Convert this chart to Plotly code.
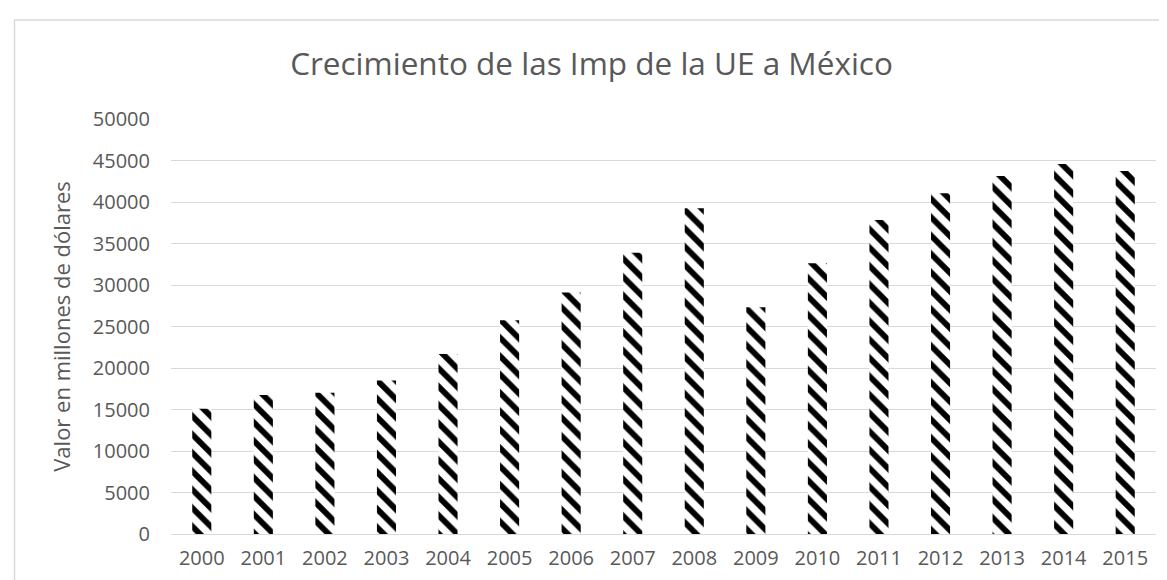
import plotly.graph_objects as go

years = ["2000", "2001", "2002", "2003", "2004", "2005", "2006", "2007",
         "2008", "2009", "2010", "2011", "2012", "2013", "2014", "2015"]
imports = [15100, 16750, 17030, 18480, 21690, 25750, 29090, 33900,
           39240, 27310, 32610, 37830, 41050, 43130, 44580, 43740]
y_ticks = [0, 5000, 10000, 15000, 20000, 25000, 30000, 35000, 40000, 45000, 50000]
y_tick_labels = [str(v) for v in y_ticks]

title_text = "Crecimiento de las Imp de la UE a México"
y_title = "Valor en millones de dólares"

W, H = 1167, 580
L, R, T, B = 163, 1148, 111, 526  # plot area in pixels

def px2paper_x(px):
    return (px - L) / (R - L)

def px2paper_y(py):
    return (B - py) / (B - T)

fig = go.Figure()
fig.add_trace(go.Bar(
    x=years, y=imports,
    marker=dict(
        color="white",
        line=dict(width=0),
        pattern=dict(shape="\\", fgcolor="black", bgcolor="white",
                     size=13, solidity=0.45, fillmode="replace"),
    ),
    showlegend=False,
))

font_family = "Open Sans"
grey = "#595959"
fig.update_layout(
    width=W, height=H,
    margin=dict(l=L, r=W - R, t=T, b=H - B, pad=0),
    paper_bgcolor="white", plot_bgcolor="white",
    bargap=0.69,
    font=dict(family=font_family, color=grey, size=20),
    title=dict(text=title_text, x=0.5, xanchor="center", xref="container",
               y=1 - 56 / H, yanchor="middle", yref="container",
               font=dict(family=font_family, size=31.5, color=grey)),
    xaxis=dict(showgrid=False, showline=True, linecolor="#d9d9d9", linewidth=1,
               ticks="", ticklen=0, tickfont=dict(size=20, color=grey),
               ticklabelstandoff=6),
    yaxis=dict(range=[0, 50000], tickvals=y_ticks, ticktext=y_tick_labels,
               showgrid=True, gridcolor="#d9d9d9", gridwidth=1, zeroline=False,
               showline=False, ticks="", ticklen=0, ticklabelstandoff=20,
               tickfont=dict(size=20, color=grey),
               title=dict(text=y_title, standoff=16,
                          font=dict(size=22, color=grey))),
    shapes=[dict(type="rect", xref="paper", yref="paper",
                 x0=px2paper_x(6.5), x1=px2paper_x(1175),
                 y0=px2paper_y(590), y1=px2paper_y(12),
                 line=dict(color="#d9d9d9", width=1.5), layer="below")],
)

fig.write_html("out.html")
